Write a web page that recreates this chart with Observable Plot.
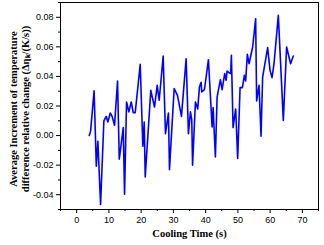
<!DOCTYPE html>
<html>
<head>
<meta charset="utf-8">
<script src="https://cdn.jsdelivr.net/npm/d3@7"></script>
<script src="https://cdn.jsdelivr.net/npm/@observablehq/plot@0.6"></script>
<style>
  body { margin: 0; background: #fff; }
</style>
</head>
<body>
<div id="chart"></div>
<script>
const coolingTime = [3.93, 4.33, 5.42, 6.10, 6.59, 7.43, 8.45, 9.19, 9.69, 10.43, 11.05, 11.76, 12.69, 13.22, 14.46, 14.86, 15.48, 16.19, 16.93, 17.55, 18.17, 19.72, 20.53, 20.96, 21.27, 23.0, 24.15, 24.98, 25.6, 26.84, 27.55, 28.48, 28.79, 30.25, 31.27, 32.51, 33.96, 34.67, 35.29, 35.7, 35.95, 36.84, 37.55, 38.08, 38.61, 38.79, 39.63, 40.87, 42.01, 42.32, 43.03, 43.56, 44.58, 45.11, 45.91, 46.35, 46.66, 47.46, 47.77, 47.99, 48.51, 49.32, 49.94, 50.68, 51.39, 52.01, 52.41, 52.94, 53.47, 54.58, 55.51, 55.82, 56.56, 57.18, 57.68, 59.23, 59.97, 60.59, 61.21, 62.54, 64.09, 65.11, 66.35, 67.18];
const increment = [0.000, 0.003, 0.0303, -0.0207, -0.0039, -0.0466, 0.0100, 0.013, 0.0092, 0.0153, 0.0126, 0.007, 0.0369, -0.016, 0.0054, -0.0397, 0.0227, 0.016, 0.0227, 0.0155, 0.0155, 0.0482, -0.0072, 0.0092, -0.028, 0.0306, 0.0193, 0.034, 0.0239, 0.0538, 0.0013, 0.0153, -0.023, 0.0318, 0.0272, 0.013, 0.052, 0.0013, 0.016, 0.0108, -0.020, 0.0227, 0.018, 0.0328, 0.036, 0.0295, 0.031, 0.0513, 0.0058, 0.019, -0.0145, 0.026, 0.0378, 0.031, 0.0419, 0.0374, 0.0436, 0.0423, 0.0419, 0.0543, 0.0054, 0.018, -0.0155, 0.0324, 0.0324, 0.0407, 0.0369, 0.0549, 0.0486, 0.0599, 0.079, 0.0234, 0.034, -0.0005, 0.0396, 0.0595, 0.0441, 0.0392, 0.0486, 0.0813, 0.0103, 0.0599, 0.0486, 0.0538];

const xMajor = [0, 10, 20, 30, 40, 50, 60, 70];
const xMinor = [-5, 5, 15, 25, 35, 45, 55, 65, 75];
const yMajor = [-0.04, -0.02, 0.00, 0.02, 0.04, 0.06, 0.08];
const yMinor = [-0.05, -0.03, -0.01, 0.01, 0.03, 0.05, 0.07, 0.09];
const xLabel = "Cooling Time (s)";
const yLabel = "Average Increment of temperature\ndifference relative change (Δηₖ/(K/s))";

const data = coolingTime.map((t, i) => ({t, v: increment[i]}));

const chart = Plot.plot({
  width: 324,
  height: 245,
  marginLeft: 60,
  marginRight: 6,
  marginTop: 2,
  marginBottom: 36,
  style: {fontFamily: "'Liberation Sans', Arial, sans-serif", fontSize: "9px", background: "#fff", color: "#000"},
  x: {domain: [-5, 75]},
  y: {domain: [-0.05, 0.09]},
  marks: [
    Plot.frame({stroke: "#000", strokeWidth: 1}),
    Plot.axisX({ticks: xMajor, tickSize: 4, tickPadding: 3, tickFormat: d => String(d), label: null, fontSize: 9}),
    Plot.axisX({ticks: xMinor, tickSize: 2, tickFormat: null, text: null, label: null}),
    Plot.axisY({ticks: yMajor, tickSize: 4, tickPadding: 3, tickFormat: d => d.toFixed(2), label: null, fontSize: 9}),
    Plot.axisY({ticks: yMinor, tickSize: 2, text: null, label: null}),
    Plot.line(data, {x: "t", y: "v", stroke: "#0000ff", strokeWidth: 1.6}),
    Plot.text([xLabel], {frameAnchor: "bottom", dy: 27, text: d => d, fontFamily: "'Liberation Serif', 'Times New Roman', serif", fontWeight: "bold", fontSize: 10.5, fill: "#000"}),
    Plot.text([yLabel], {frameAnchor: "left", dx: -41, dy: 3, rotate: -90, textAnchor: "middle", lineAnchor: "middle", text: d => d, lineHeight: 1.1, fontFamily: "'Liberation Serif', 'Times New Roman', serif", fontWeight: "bold", fontSize: 10.5, fill: "#000"})
  ]
});
document.getElementById("chart").appendChild(chart);
</script>
</body>
</html>
